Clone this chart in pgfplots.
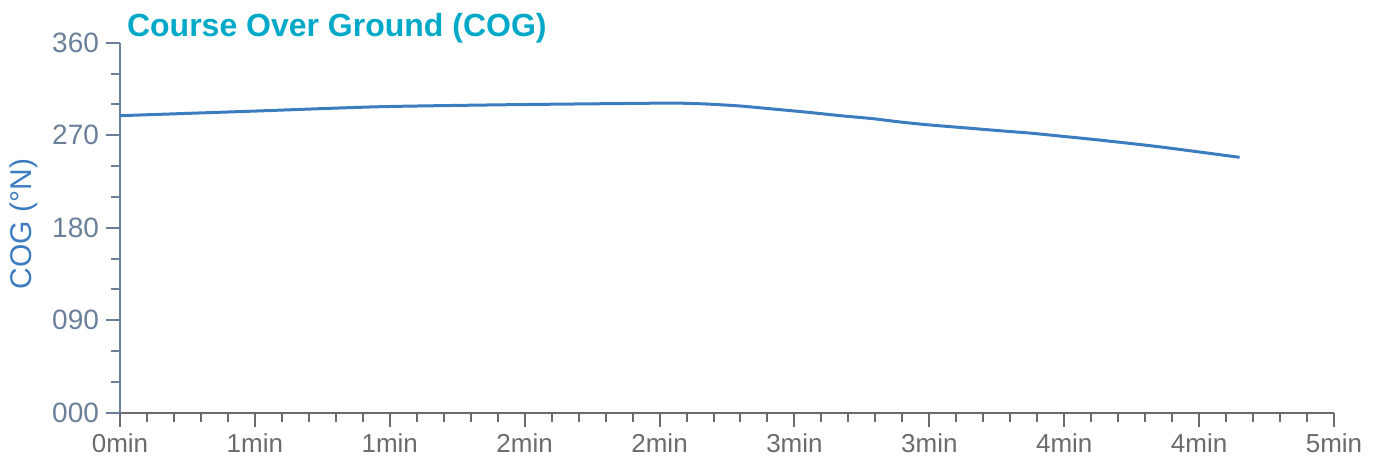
\documentclass[border=0pt]{standalone}
\usepackage{fontspec}
\setmainfont{Liberation Sans}
\usepackage{pgfplots}
\pgfplotsset{compat=1.18}
\definecolor{slate}{HTML}{6A7F99}
\definecolor{xgray}{HTML}{6B6B6B}
\definecolor{lineblue}{HTML}{3C7DC0}
\definecolor{titleteal}{HTML}{00A9C8}
\begin{document}
\begin{tikzpicture}
\path[use as bounding box] (-60pt,-25.15pt) rectangle (629.5pt,206.35pt);
\begin{axis}[
  scale only axis,
  width=607pt, height=185pt,
  xmin=0, xmax=4.5, ymin=0, ymax=360,
  axis x line=bottom, axis y line=left,
  x axis line style={-, color=xgray, line width=1pt},
  y axis line style={-, color=slate, line width=1pt},
  xtick={0,0.5,1,1.5,2,2.5,3,3.5,4,4.5},
  xticklabels={0min,1min,1min,2min,2min,3min,3min,4min,4min,5min},
  ytick={0,90,180,270,360},
  yticklabels={000,090,180,270,360},
  minor x tick num=4,
  minor y tick num=2,
  tick align=outside,
  major tick length=7pt,
  minor tick length=4.5pt,
  x tick style={color=xgray, line width=1pt},
  y tick style={color=slate, line width=1pt},
  /pgf/number format/assume math mode=true,
  x tick label style={color=xgray, font=\fontsize{13}{15}\selectfont},
  y tick label style={color=slate, font=\fontsize{14}{16}\selectfont},
  ylabel={COG (°N)},
  ylabel style={at={(axis description cs:-0.0727,0.51)}, anchor=base, color=lineblue, font=\fontsize{15}{17}\selectfont},
  title={Course Over Ground (COG)},
  title style={at={(axis description cs:0,1)}, anchor=base west, xshift=0pt, yshift=-2.65pt, color=titleteal, font=\fontsize{16}{19}\selectfont\bfseries},
  clip=false,
]
\addplot[color=lineblue, line width=1.5pt, smooth, tension=0.4] coordinates {
(0.00,289.0)
(0.48,293.3)
(0.96,297.7)
(1.45,299.7)
(1.93,301.0)
(2.05,301.3)
(2.17,300.4)
(2.30,298.4)
(2.42,295.5)
(2.55,292.3)
(2.67,289.0)
(2.79,286.1)
(2.89,282.9)
(3.00,280.0)
(3.14,277.0)
(3.26,274.4)
(3.38,271.9)
(3.51,268.5)
(3.63,265.3)
(3.85,258.8)
(4.15,248.5)
};
\end{axis}
\end{tikzpicture}
\end{document}
